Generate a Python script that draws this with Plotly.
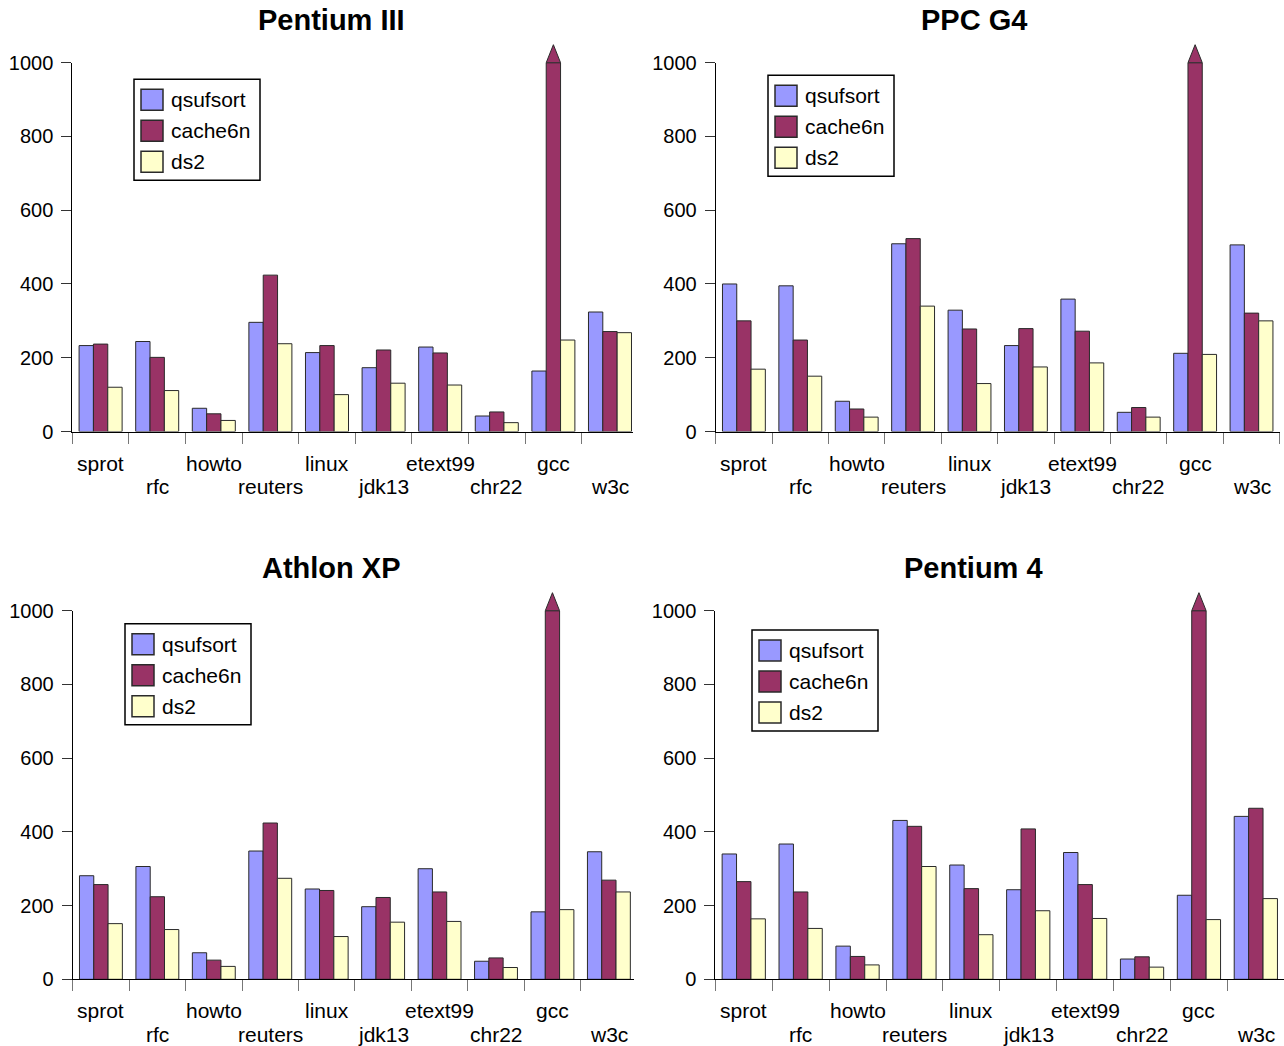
import plotly.graph_objects as go

# ---------------- data ----------------
categories = ["sprot", "rfc", "howto", "reuters", "linux", "jdk13",
              "etext99", "chr22", "gcc", "w3c"]
series_names = ["qsufsort", "cache6n", "ds2"]
series_colors = ["#9999FF", "#993366", "#FFFFCC"]
panel_titles = ["Pentium III", "PPC G4", "Athlon XP", "Pentium 4"]
y_ticks = [0, 200, 400, 600, 800, 1000]
y_max = 1000  # values at or above this are drawn clipped with an arrow

p3_qsufsort = [233, 244, 63, 296, 214, 173, 229, 42, 164, 324]
p3_cache6n = [237, 201, 48, 424, 233, 221, 213, 53, 1000, 271]
p3_ds2 = [120, 111, 30, 238, 100, 131, 126, 24, 248, 268]

g4_qsufsort = [400, 395, 82, 509, 329, 233, 359, 52, 212, 506]
g4_cache6n = [300, 248, 61, 523, 278, 279, 272, 65, 1000, 321]
g4_ds2 = [169, 150, 39, 340, 130, 175, 186, 39, 209, 300]

ax_qsufsort = [281, 306, 72, 348, 245, 197, 300, 49, 183, 346]
ax_cache6n = [257, 224, 52, 424, 241, 222, 237, 58, 1000, 269]
ax_ds2 = [151, 135, 35, 274, 116, 155, 157, 32, 189, 237]

p4_qsufsort = [340, 367, 90, 431, 310, 243, 344, 55, 228, 442]
p4_cache6n = [265, 237, 62, 415, 246, 408, 257, 61, 1000, 464]
p4_ds2 = [164, 138, 39, 306, 121, 186, 165, 33, 162, 219]

panel_values = [
    [p3_qsufsort, p3_cache6n, p3_ds2],
    [g4_qsufsort, g4_cache6n, g4_ds2],
    [ax_qsufsort, ax_cache6n, ax_ds2],
    [p4_qsufsort, p4_cache6n, p4_ds2],
]

# ---------------- layout geometry (window pixels) ----------------
W, H = 1284, 1046
BARGAP = 0.24

# (x_left, x_right, y_top(=1000), y_bottom(=0), x_range_end)
panel_box = [
    (72.3, 633.3, 62.7, 431.5, 9.412),
    (715.7, 1280.0, 62.7, 431.5, 9.505),
    (72.7, 634.0, 610.7, 979.3, 9.445),
    (715.3, 1284.0, 610.7, 979.3, 9.495),
]
title_pos = [(332, 20), (974, 20), (331, 568), (973.5, 568)]
legend_pos = [(134, 79.3), (768, 75.3), (125, 623.7), (752, 630)]
label_rows = [31.5, 55.5]    # label centre distance below the zero line


def px(x):
    return x / W


def py(y):
    return 1 - y / H


fig = go.Figure()
shapes = []
annotations = []
FONT = "Liberation Sans, Arial, sans-serif"

for p in range(4):
    sfx = "" if p == 0 else str(p + 1)
    xa, ya = "x" + sfx, "y" + sfx
    for s, name in enumerate(series_names):
        fig.add_trace(go.Bar(
            x=categories, y=panel_values[p][s], name=name,
            marker=dict(color=series_colors[s],
                        line=dict(color="#2a2a2a", width=1)),
            xaxis=xa, yaxis=ya, showlegend=False,
        ))
    xl, xr, yt, yb, xend = panel_box[p]
    fig.update_layout(**{
        "xaxis" + sfx: dict(
            domain=[px(xl), px(xr)], anchor=ya, automargin=False,
            type="category", range=[-0.5, xend],
            tickmode="array", tickvals=categories, showticklabels=False,
            tickson="boundaries", ticks="outside", ticklen=11,
            tickcolor="#777777", tickwidth=1,
            showline=True, linecolor="black", linewidth=1,
            showgrid=False, zeroline=False,
        ),
        "yaxis" + sfx: dict(
            domain=[py(yb), py(yt)], anchor=xa, automargin=False,
            range=[0, y_max], tickmode="array", tickvals=y_ticks,
            ticks="outside", ticklen=10, tickcolor="#333333", tickwidth=1,
            showline=True, linecolor="black", linewidth=1,
            showgrid=False, zeroline=False,
            tickfont=dict(family=FONT, size=20, color="black"),
            ticklabelstandoff=4,
        ),
    })

    # category labels, alternating between two rows
    for i, c in enumerate(categories):
        annotations.append(dict(
            text=c, xref=xa, yref="paper", x=c,
            y=py(yb + label_rows[i % 2]), xanchor="center", yanchor="middle",
            showarrow=False, font=dict(family=FONT, size=21, color="black"),
        ))

    # arrow for clipped bars
    n = len(series_names)
    bw = (1 - BARGAP) / n
    for s in range(n):
        for i, v in enumerate(panel_values[p][s]):
            if v >= y_max:
                cx = i + (s - (n - 1) / 2) * bw
                top = py(yt)
                tip = py(yt - 18)
                shapes.append(dict(
                    type="path", xref=xa, yref="paper",
                    path=f"M{cx - bw/2},{top} L{cx + bw/2},{top} L{cx},{tip} Z",
                    fillcolor=series_colors[s],
                    line=dict(color="#2a2a2a", width=1),
                ))

    # title
    tx, ty = title_pos[p]
    annotations.append(dict(
        text="<b>" + panel_titles[p] + "</b>", xref="paper", yref="paper",
        x=px(tx), y=py(ty), xanchor="center", yanchor="middle",
        showarrow=False, font=dict(family=FONT, size=29, color="black"),
    ))

    # legend box
    lx, ly = legend_pos[p]
    shapes.append(dict(
        type="rect", xref="paper", yref="paper",
        x0=px(lx), x1=px(lx + 126), y0=py(ly), y1=py(ly + 101),
        fillcolor="white", line=dict(color="black", width=1.5), layer="above",
    ))
    for s, name in enumerate(series_names):
        sy = ly + 10 + 31 * s
        shapes.append(dict(
            type="rect", xref="paper", yref="paper",
            x0=px(lx + 7), x1=px(lx + 29), y0=py(sy), y1=py(sy + 21),
            fillcolor=series_colors[s], line=dict(color="#2a2a2a", width=1.5),
            layer="above",
        ))
        annotations.append(dict(
            text=name, xref="paper", yref="paper",
            x=px(lx + 35), y=py(sy + 10.5), xanchor="left", yanchor="middle",
            showarrow=False, font=dict(family=FONT, size=21, color="black"),
        ))

fig.update_layout(
    width=W, height=H, margin=dict(l=0, r=0, t=0, b=0),
    paper_bgcolor="white", plot_bgcolor="white",
    barmode="group", bargap=BARGAP, bargroupgap=0,
    showlegend=False, shapes=shapes, annotations=annotations,
    font=dict(family=FONT, color="black"), hovermode=False,
)

# remove the default 8px page margin so the figure fills the window exactly
fig.write_html(
    "out.html",
    config={"displayModeBar": False, "staticPlot": True},
    post_script="document.body.style.margin='0';document.body.style.overflow='hidden';",
)
